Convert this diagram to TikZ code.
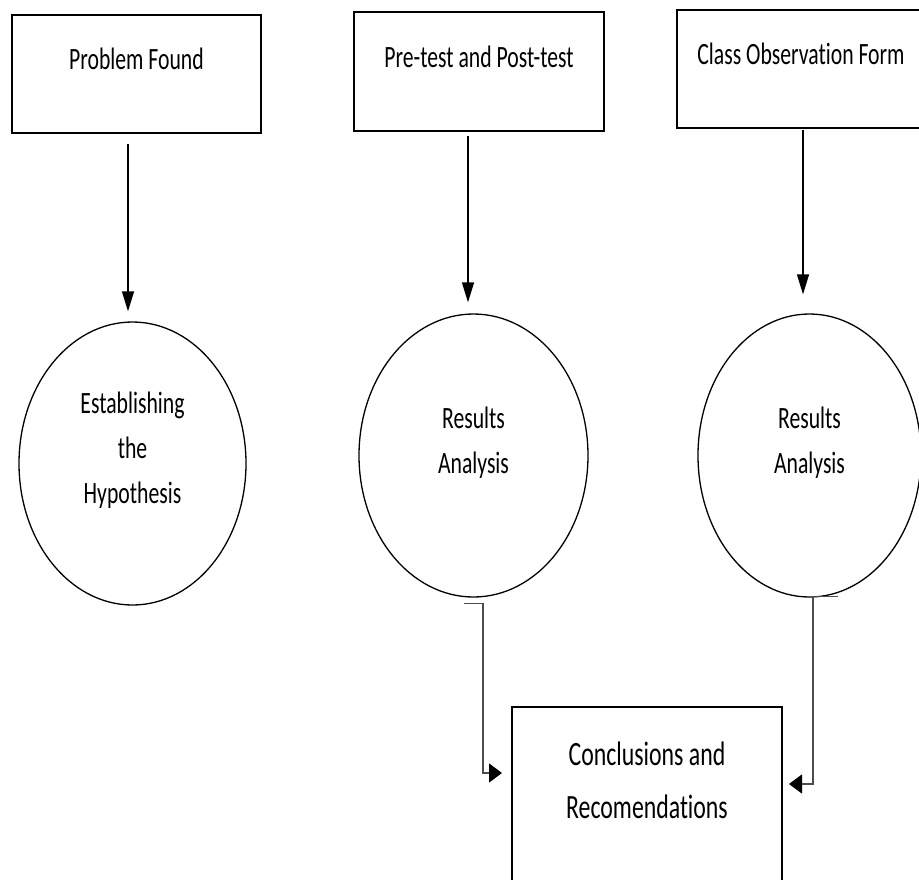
\documentclass[tikz,border=0pt]{standalone}
\usepackage{fontspec}
\setmainfont{Carlito}[FakeStretch=0.70,Ligatures={NoCommon}]
\usetikzlibrary{arrows.meta,shapes.geometric}
\newcommand\mlines[1]{\begin{tabular}[t]{@{}c@{}}#1\end{tabular}}
\begin{document}
\begin{tikzpicture}[x=1pt,y=-1pt,
  every node/.style={font=\fontsize{31}{45}\selectfont, inner sep=0pt},
  box/.style={draw, line width=1.6pt, rectangle},
  oval/.style={draw, line width=1.3pt, ellipse},
  varrow/.style={line width=1.3pt, -{Triangle[length=20pt,width=12pt]}},
  harrow/.style={line width=1.3pt, draw=black!70, -{Triangle[length=13pt,width=19pt,fill=black,color=black]}}]
\useasboundingbox (0,0) rectangle (919,879);
\clip (0,0) rectangle (919,879);
% top boxes
\node[box, minimum width=249pt, text height=54pt, text depth=64pt] (b1) at (136.5,74) {Problem Found};
\node[box, minimum width=250pt, text height=55pt, text depth=64pt] (b2) at (479,71.5) {Pre-test and Post-test};
\node[box, minimum width=248pt, text height=54pt, text depth=64pt] (b3) at (801,69) {Class Observation Form};
% ellipses
\node[oval, minimum width=227pt, minimum height=283pt, text height=39.5pt, text depth=140.5pt] (e1) at (132.5,463.5)
  {\mlines{Establishing\\the\\Hypothesis}};
\node[oval, minimum width=229pt, minimum height=283pt, text height=62.5pt, text depth=117.5pt] (e2) at (473.5,455.5)
  {\mlines{Results\\Analysis}};
\node[oval, minimum width=223pt, minimum height=283pt, text height=62.5pt, text depth=117.5pt] (e3) at (809.5,455.5)
  {\mlines{Results\\Analysis}};
% bottom box
\node[box, minimum width=270pt, text height=58pt, text depth=140pt, font=\fontsize{34}{53}\selectfont] (c4) at (647,806)
  {\mlines{Conclusions and\\Recomendations}};
% vertical arrows
\draw[varrow, shorten >=10pt] ([xshift=-8.5pt,yshift=-10pt]b1.south) -- ([xshift=-4.5pt]e1.north);
\draw[varrow, shorten >=11pt] ([xshift=-11pt,yshift=-4pt]b2.south) -- ([xshift=-5.5pt]e2.north);
\draw[varrow, shorten >=19pt] ([xshift=2pt,yshift=-1pt]b3.south) -- ([xshift=-6.5pt]e3.north);
% connectors to conclusions
\coordinate (t2) at (502,773);
\coordinate (t3) at (789,784);
\draw[harrow] ([xshift=-9.5pt,yshift=-6pt]e2.south) -- ++(19,0) |- (t2);
\draw[harrow] ([xshift=28.5pt,yshift=1pt]e3.south) -- ++(-25,0) |- (t3);
\end{tikzpicture}
\end{document}
